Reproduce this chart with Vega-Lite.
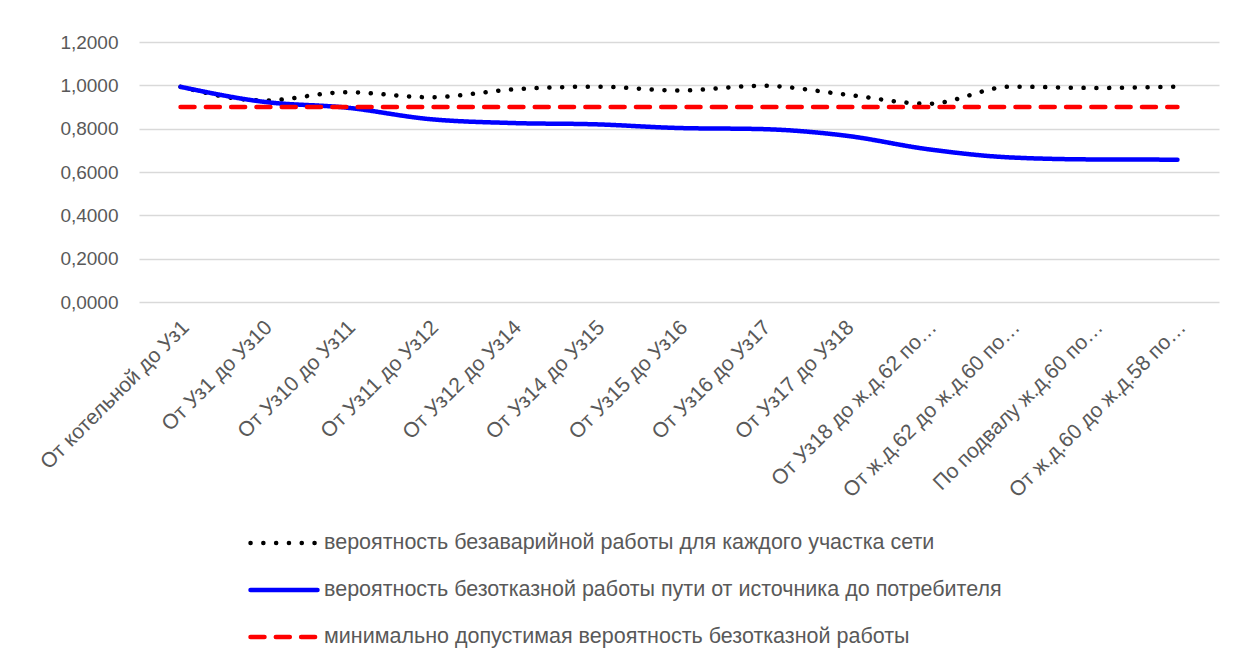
{
  "$schema": "https://vega.github.io/schema/vega-lite/v6.json",
  "width": 1080,
  "height": 260,
  "autosize": {"type": "none"},
  "padding": {"left": 139, "top": 42, "right": 17, "bottom": 357},
  "background": "white",
  "config": {
    "view": {"stroke": null},
    "font": "Liberation Sans",
    "axis": {"labelFont": "Liberation Sans", "labelColor": "#595959", "labelFontSize": 19}
  },
  "data": {
    "values": [
      {"cat": "От котельной до Уз1", "series": "dot", "value": 0.993},
      {"cat": "От Уз1 до Уз10", "series": "dot", "value": 0.930},
      {"cat": "От Уз10 до Уз11", "series": "dot", "value": 0.968},
      {"cat": "От Уз11 до Уз12", "series": "dot", "value": 0.945},
      {"cat": "От Уз12 до Уз14", "series": "dot", "value": 0.981},
      {"cat": "От Уз14 до Уз15", "series": "dot", "value": 0.994},
      {"cat": "От Уз15 до Уз16", "series": "dot", "value": 0.976},
      {"cat": "От Уз16 до Уз17", "series": "dot", "value": 0.998},
      {"cat": "От Уз17 до Уз18", "series": "dot", "value": 0.958},
      {"cat": "От Уз18 до ж.д.62 по…", "series": "dot", "value": 0.915},
      {"cat": "От ж.д.62 до ж.д.60 по…", "series": "dot", "value": 0.994},
      {"cat": "По подвалу ж.д.60 по…", "series": "dot", "value": 0.988},
      {"cat": "От ж.д.60 до ж.д.58 по…", "series": "dot", "value": 0.994},
      {"cat": "От котельной до Уз1", "series": "path", "value": 0.993},
      {"cat": "От Уз1 до Уз10", "series": "path", "value": 0.924},
      {"cat": "От Уз10 до Уз11", "series": "path", "value": 0.897},
      {"cat": "От Уз11 до Уз12", "series": "path", "value": 0.844},
      {"cat": "От Уз12 до Уз14", "series": "path", "value": 0.826},
      {"cat": "От Уз14 до Уз15", "series": "path", "value": 0.820},
      {"cat": "От Уз15 до Уз16", "series": "path", "value": 0.803},
      {"cat": "От Уз16 до Уз17", "series": "path", "value": 0.798},
      {"cat": "От Уз17 до Уз18", "series": "path", "value": 0.768},
      {"cat": "От Уз18 до ж.д.62 по…", "series": "path", "value": 0.705},
      {"cat": "От ж.д.62 до ж.д.60 по…", "series": "path", "value": 0.667},
      {"cat": "По подвалу ж.д.60 по…", "series": "path", "value": 0.658},
      {"cat": "От ж.д.60 до ж.д.58 по…", "series": "path", "value": 0.657},
      {"cat": "От котельной до Уз1", "series": "min", "value": 0.9},
      {"cat": "От Уз1 до Уз10", "series": "min", "value": 0.9},
      {"cat": "От Уз10 до Уз11", "series": "min", "value": 0.9},
      {"cat": "От Уз11 до Уз12", "series": "min", "value": 0.9},
      {"cat": "От Уз12 до Уз14", "series": "min", "value": 0.9},
      {"cat": "От Уз14 до Уз15", "series": "min", "value": 0.9},
      {"cat": "От Уз15 до Уз16", "series": "min", "value": 0.9},
      {"cat": "От Уз16 до Уз17", "series": "min", "value": 0.9},
      {"cat": "От Уз17 до Уз18", "series": "min", "value": 0.9},
      {"cat": "От Уз18 до ж.д.62 по…", "series": "min", "value": 0.9},
      {"cat": "От ж.д.62 до ж.д.60 по…", "series": "min", "value": 0.9},
      {"cat": "По подвалу ж.д.60 по…", "series": "min", "value": 0.9},
      {"cat": "От ж.д.60 до ж.д.58 по…", "series": "min", "value": 0.9}
    ]
  },
  "mark": {"type": "line", "strokeWidth": 4.5, "strokeCap": "round", "interpolate": "monotone"},
  "encoding": {
    "x": {
      "field": "cat", "type": "nominal", "sort": null, "title": null,
      "scale": {"type": "point", "padding": 0.5},
      "axis": {"labelAngle": -45, "labelAlign": "right", "labelBaseline": "middle", "labelPadding": 22, "labelOffset": 5, "labelFontSize": 21, "ticks": false, "domain": false, "grid": false, "labelLimit": 300}
    },
    "y": {
      "field": "value", "type": "quantitative", "title": null,
      "scale": {"domain": [0, 1.2], "nice": false},
      "axis": {"values": [0, 0.2, 0.4, 0.6, 0.8, 1.0, 1.2], "labelExpr": "replace(format(datum.value, '.4f'), '.', ',')", "ticks": false, "domain": false, "gridColor": "#d9d9d9", "gridWidth": 1.5, "labelPadding": 21}
    },
    "color": {
      "field": "series", "type": "nominal",
      "scale": {"domain": ["dot", "path", "min"], "range": ["#000000", "#0000ff", "#ff0000"]},
      "legend": {
        "title": null, "orient": "none", "legendX": 109, "legendY": 465, "direction": "vertical",
        "symbolType": "stroke", "symbolSize": 3306, "symbolStrokeWidth": 4.5,
        "labelFontSize": 21.5, "labelColor": "#595959", "labelFont": "Liberation Sans", "labelOffset": 4, "rowPadding": 0,
        "labelExpr": "datum.value == 'dot' ? 'вероятность безаварийной работы для каждого участка сети' : datum.value == 'path' ? 'вероятность безотказной работы пути от источника до потребителя' : 'минимально допустимая вероятность безотказной работы'",
        "labelLimit": 900,
        "encode": {"symbols": {"update": {"strokeCap": {"value": "round"}, "size": {"value": 4489}}}}
      }
    },
    "strokeDash": {
      "field": "series", "type": "nominal",
      "scale": {"domain": ["dot", "path", "min"], "range": [[0.1, 12.7], [1, 0], [14, 11.3]]},
      "legend": null
    }
  }
}
